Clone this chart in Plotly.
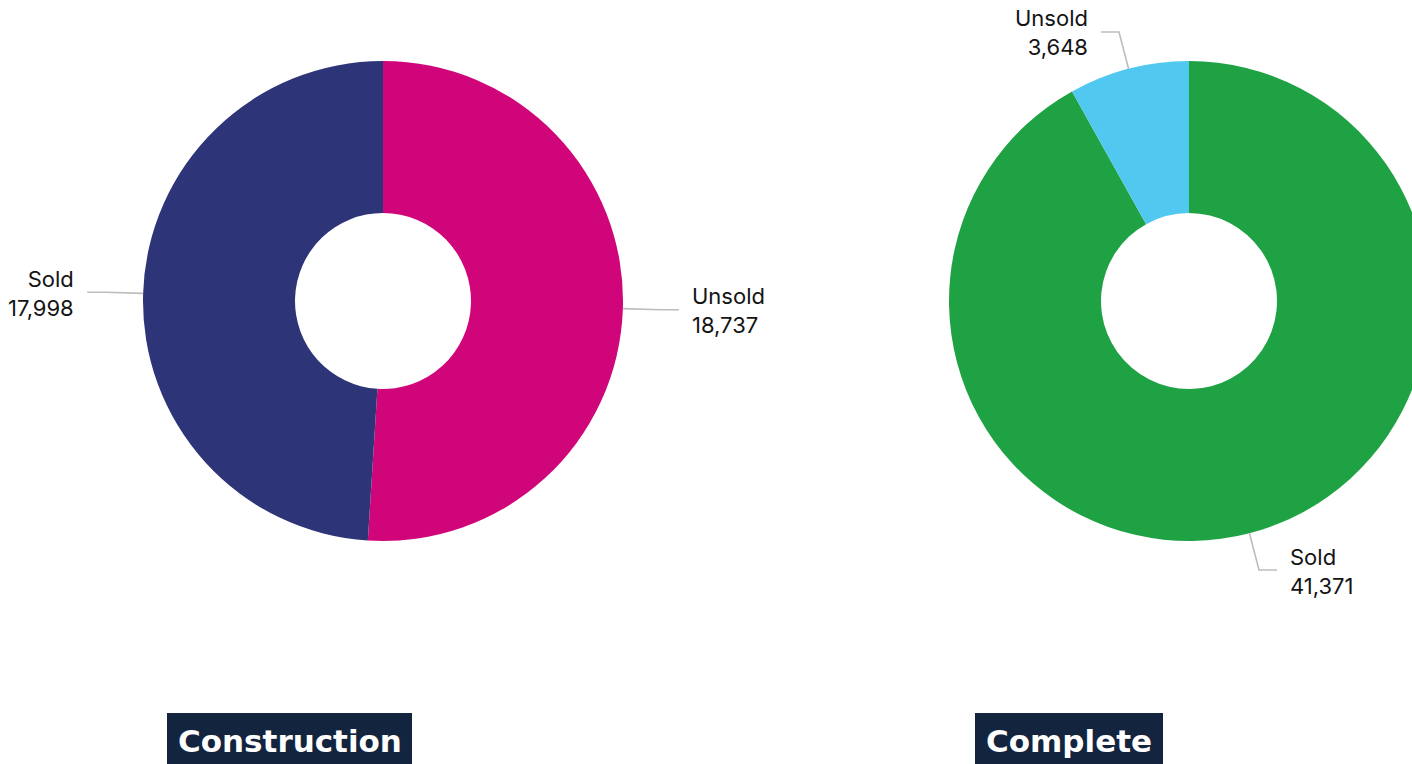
import math
import plotly.graph_objects as go

# --- data -------------------------------------------------------------
construction_labels = ["Unsold", "Sold"]
construction_values = [18737, 17998]
complete_labels = ["Sold", "Unsold"]
complete_values = [41371, 3648]

construction_colors = ["#D0057A", "#2E3478"]
complete_colors = ["#1FA244", "#50C8F0"]

panel_titles = ["Construction", "Complete"]

# --- layout geometry (pixels) ----------------------------------------
W, H = 1432, 764
R = 240          # outer radius
HOLE = 88 / 240  # inner / outer radius
centers = [(383, 301), (1189, 301)]
title_boxes = [(167, 412), (975, 1163)]
title_top = 713

LEAD_RADIAL = 38
LEAD_FLAT = 18
LEAD_GAP = 11


def px(x):
    return x / W


def py(y):
    return 1 - y / H


fig = go.Figure()
shapes = []
annotations = []

panels = [
    (construction_labels, construction_values, construction_colors),
    (complete_labels, complete_values, complete_colors),
]

for (labels, values, colors), (cx, cy) in zip(panels, centers):
    fig.add_trace(go.Pie(
        labels=labels,
        values=values,
        hole=HOLE,
        sort=False,
        direction="clockwise",
        rotation=0,
        marker=dict(colors=colors, line=dict(width=0)),
        textinfo="none",
        hoverinfo="label+value",
        showlegend=False,
        domain=dict(x=[px(cx - R), px(cx + R)], y=[py(cy + R), py(cy - R)]),
    ))

    # leader lines and labels placed at each slice's mid-angle
    total = sum(values)
    cum = 0
    for lab, val in zip(labels, values):
        mid = (cum + val / 2) / total * 2 * math.pi
        cum += val
        sx, sy = math.sin(mid), -math.cos(mid)
        x0, y0 = cx + R * sx, cy + R * sy
        x1, y1 = cx + (R + LEAD_RADIAL) * sx, cy + (R + LEAD_RADIAL) * sy
        side = 1 if sx >= 0 else -1
        x2 = x1 + side * LEAD_FLAT
        shapes.append(dict(
            type="path", xref="paper", yref="paper",
            path=f"M {px(x0)} {py(y0)} L {px(x1)} {py(y1)} L {px(x2)} {py(y1)}",
            line=dict(color="#BDBDBD", width=1.6),
        ))
        annotations.append(dict(
            x=px(x2 + side * LEAD_GAP), y=py(y1 + 1), xref="paper", yref="paper",
            text=f"{lab}<br>{val:,}",
            showarrow=False,
            xanchor="left" if side > 0 else "right",
            yanchor="middle",
            align="left" if side > 0 else "right",
            font=dict(family="Inter", size=22, color="#141414"),
        ))

# panel titles on dark boxes
for title, (bx0, bx1) in zip(panel_titles, title_boxes):
    shapes.append(dict(
        type="rect", xref="paper", yref="paper",
        x0=px(bx0), x1=px(bx1), y0=py(title_top), y1=py(H + 20),
        fillcolor="#13243F", line=dict(width=0), layer="above",
    ))
    annotations.append(dict(
        x=px((bx0 + bx1) / 2), y=py(741), xref="paper", yref="paper",
        text=f"<b>{title}</b>", showarrow=False,
        xanchor="center", yanchor="middle",
        font=dict(family="DejaVu Sans", size=31, color="#FFFFFF"),
    ))

fig.update_layout(
    width=W, height=H,
    margin=dict(l=0, r=0, t=0, b=0),
    paper_bgcolor="#FFFFFF",
    plot_bgcolor="#FFFFFF",
    shapes=shapes,
    annotations=annotations,
)

fig.write_html("out.html")
